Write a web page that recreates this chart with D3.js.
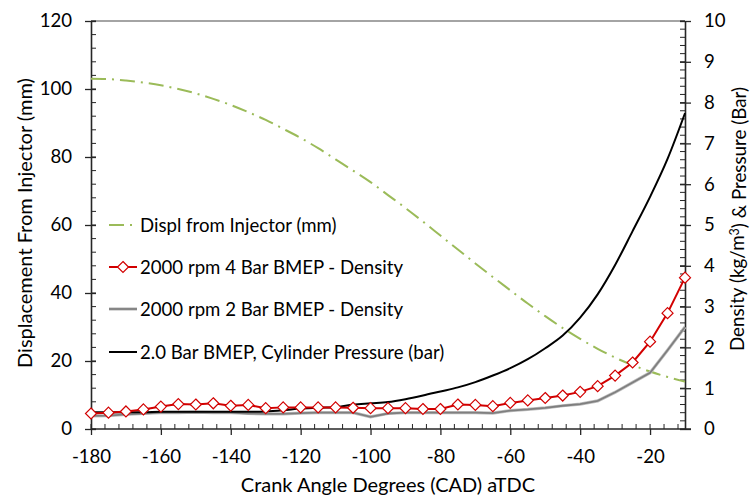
<!DOCTYPE html>
<html><head><meta charset="utf-8">
<script src="https://cdn.jsdelivr.net/npm/d3@7"></script>
<style>
body{margin:0;background:#fff;}
svg text{font-family:Lato,"Open Sans",sans-serif;fill:#000;}
</style></head>
<body><svg id="c" width="751" height="498"></svg>
<script>
// ---- data ----
const crankAngles = [-180,-175,-170,-165,-160,-155,-150,-145,-140,-135,-130,-125,-120,-115,-110,-105,-100,-95,-90,-85,-80,-75,-70,-65,-60,-55,-50,-45,-40,-35,-30,-25,-20,-15,-10];
const displInjector = [103.0,102.9,102.5,101.9,101.1,100.0,98.7,97.1,95.3,93.2,90.9,88.3,85.6,82.6,79.3,76.0,72.6,68.8,65.0,61.0,56.9,52.8,48.7,44.7,40.8,36.9,33.2,29.7,26.5,23.6,21.0,18.8,16.9,15.3,13.9];
const density4Bar = [0.38,0.40,0.43,0.48,0.55,0.61,0.60,0.63,0.57,0.59,0.51,0.53,0.53,0.53,0.53,0.52,0.51,0.51,0.51,0.49,0.49,0.60,0.59,0.56,0.64,0.70,0.76,0.82,0.91,1.05,1.31,1.63,2.14,2.84,3.71];
const density2Bar = [0.32,0.33,0.36,0.38,0.40,0.40,0.41,0.40,0.40,0.38,0.37,0.37,0.39,0.40,0.40,0.40,0.30,0.38,0.40,0.40,0.40,0.40,0.40,0.39,0.45,0.48,0.52,0.57,0.61,0.69,0.90,1.14,1.38,1.93,2.50];
const pressure2Bar = [0.41,0.41,0.41,0.41,0.42,0.42,0.42,0.42,0.42,0.42,0.43,0.46,0.50,0.52,0.53,0.60,0.63,0.66,0.73,0.82,0.92,1.02,1.15,1.31,1.49,1.71,1.98,2.29,2.73,3.30,4.02,4.85,5.69,6.62,7.74];
const seriesNames = ["Displ from Injector (mm)","2000 rpm 4 Bar BMEP - Density","2000 rpm 2 Bar BMEP - Density","2.0 Bar BMEP, Cylinder Pressure (bar)"];
const xTicks = [-180,-160,-140,-120,-100,-80,-60,-40,-20];
const yLeftTicks = [0,20,40,60,80,100,120];
const yRightTicks = [0,1,2,3,4,5,6,7,8,9,10];
const xTitle = "Crank Angle Degrees (CAD) aTDC";
const yLeftTitle = "Displacement From Injector (mm)";

const svg = d3.select("#c");
const L=91, R=685, T=21, B=429;
const x = d3.scaleLinear([-180,-10],[L,R]);
const yL = d3.scaleLinear([0,120],[B,T]);
const yR = d3.scaleLinear([0,10],[B,T]);
const FS = 18.6, TFS = 20;

// top border
svg.append("line").attr("x1",L).attr("x2",R).attr("y1",T).attr("y2",T).attr("stroke","#868686").attr("stroke-width",1.3);

// minor ticks
const axCol = "#262626";
const minorX = d3.range(-180,-10+0.001,4);
svg.append("g").selectAll("line").data(minorX).join("line")
  .attr("x1",d=>x(d)).attr("x2",d=>x(d)).attr("y1",B).attr("y2",B-5).attr("stroke",axCol).attr("stroke-width",1);
const minorL = d3.range(0,120.001,4);
svg.append("g").selectAll("line").data(minorL).join("line")
  .attr("x1",L).attr("x2",L+5).attr("y1",d=>yL(d)).attr("y2",d=>yL(d)).attr("stroke",axCol).attr("stroke-width",1);
const minorR = d3.range(0,10.001,0.2);
svg.append("g").selectAll("line").data(minorR).join("line")
  .attr("x1",R).attr("x2",R-5).attr("y1",d=>yR(d)).attr("y2",d=>yR(d)).attr("stroke",axCol).attr("stroke-width",1);

// axes
const fmt = d=>String(d);
function styleAxis(g){
  g.select(".domain").attr("stroke",axCol).attr("stroke-width",1.6);
  g.selectAll(".tick line").attr("stroke",axCol).attr("stroke-width",1.3);
  g.selectAll("text").attr("font-size",FS).attr("font-family","Lato");
}
const gx = svg.append("g").attr("transform",`translate(0,${B})`)
  .call(d3.axisBottom(x).tickValues(xTicks).tickSizeInner(6).tickSizeOuter(0).tickPadding(15).tickFormat(fmt));
styleAxis(gx);
gx.select(".domain").attr("d",`M${L},0H${R+6}`);
const gl = svg.append("g").attr("transform",`translate(${L},0)`)
  .call(d3.axisLeft(yL).tickValues(yLeftTicks).tickSizeInner(6).tickSizeOuter(0).tickPadding(13).tickFormat(fmt));
styleAxis(gl);
const gr = svg.append("g").attr("transform",`translate(${R},0)`)
  .call(d3.axisRight(yR).tickValues(yRightTicks).tickSizeInner(6).tickSizeOuter(0).tickPadding(13).tickFormat(fmt));
styleAxis(gr);
gl.selectAll(".tick line").attr("x1",5);
gr.selectAll(".tick line").attr("x1",-5);

// series
const plot = svg.append("g");
const green = "#9bbb59", red="#d20000", gray="#7f7f7f";
plot.append("path").datum(crankAngles.map((c,i)=>[c,displInjector[i]]))
  .attr("fill","none").attr("stroke",green).attr("stroke-width",2).attr("stroke-dasharray","15,6,2,6")
  .attr("d",d3.line().x(d=>x(d[0])).y(d=>yL(d[1])).curve(d3.curveMonotoneX));
plot.append("path").datum(crankAngles.map((c,i)=>[c,density2Bar[i]]))
  .attr("fill","none").attr("stroke","#bfbfbf").attr("stroke-width",3.2)
  .attr("d",d3.line().x(d=>x(d[0])).y(d=>yR(d[1])));
plot.append("path").datum(crankAngles.map((c,i)=>[c,density2Bar[i]]))
  .attr("fill","none").attr("stroke",gray).attr("stroke-width",1.8)
  .attr("d",d3.line().x(d=>x(d[0])).y(d=>yR(d[1])));
plot.append("path").datum(crankAngles.map((c,i)=>[c,pressure2Bar[i]]))
  .attr("fill","none").attr("stroke","#000").attr("stroke-width",2)
  .attr("d",d3.line().x(d=>x(d[0])).y(d=>yR(d[1])).curve(d3.curveMonotoneX));
plot.append("path").datum(crankAngles.map((c,i)=>[c,density4Bar[i]]))
  .attr("fill","none").attr("stroke",red).attr("stroke-width",2)
  .attr("d",d3.line().x(d=>x(d[0])).y(d=>yR(d[1])));
const dia = (cx,cy,r)=>`M${cx},${cy-r}L${cx+r},${cy}L${cx},${cy+r}L${cx-r},${cy}Z`;
plot.append("g").selectAll("path").data(crankAngles.map((c,i)=>[c,density4Bar[i]])).join("path")
  .attr("d",d=>dia(x(d[0]),yR(d[1]),5.5)).attr("fill","#fff").attr("stroke",red).attr("stroke-width",1.2);

// legend
const legY = [225,267,309,352];
const lg = svg.append("g");
const lx1=109, lx2=137;
lg.append("line").attr("x1",lx1).attr("x2",lx2).attr("y1",legY[0]).attr("y2",legY[0]).attr("stroke",green).attr("stroke-width",2).attr("stroke-dasharray","15,6,2,6");
lg.append("line").attr("x1",lx1).attr("x2",lx2).attr("y1",legY[1]).attr("y2",legY[1]).attr("stroke",red).attr("stroke-width",2);
lg.append("path").attr("d",dia((lx1+lx2)/2,legY[1],5.5)).attr("fill","#fff").attr("stroke",red).attr("stroke-width",1.2);
lg.append("line").attr("x1",lx1).attr("x2",lx2).attr("y1",legY[2]).attr("y2",legY[2]).attr("stroke","#bfbfbf").attr("stroke-width",3.2);
lg.append("line").attr("x1",lx1).attr("x2",lx2).attr("y1",legY[2]).attr("y2",legY[2]).attr("stroke",gray).attr("stroke-width",1.8);
lg.append("line").attr("x1",lx1).attr("x2",lx2).attr("y1",legY[3]).attr("y2",legY[3]).attr("stroke","#000").attr("stroke-width",2);
lg.selectAll("text").data(seriesNames).join("text")
  .attr("x",140).attr("y",(d,i)=>legY[i]).attr("dy","0.35em").attr("font-size",FS).text(d=>d);

// titles
svg.append("text").attr("x",(L+R)/2).attr("y",485).attr("dy","0.35em").attr("text-anchor","middle").attr("font-size",TFS).text(xTitle);
svg.append("text").attr("transform","translate(25,223) rotate(-90)").attr("dy","0.35em").attr("text-anchor","middle").attr("font-size",TFS).text(yLeftTitle);
const rt = svg.append("text").attr("transform","translate(737,219) rotate(-90)").attr("dy","0.35em").attr("text-anchor","middle").attr("font-size",18.8);
rt.append("tspan").text("Density (kg/m");
rt.append("tspan").attr("dy","-0.4em").attr("font-size",12.5).text("3");
rt.append("tspan").attr("dy","0.4em").text(") & Pressure (Bar)");
</script></body></html>
